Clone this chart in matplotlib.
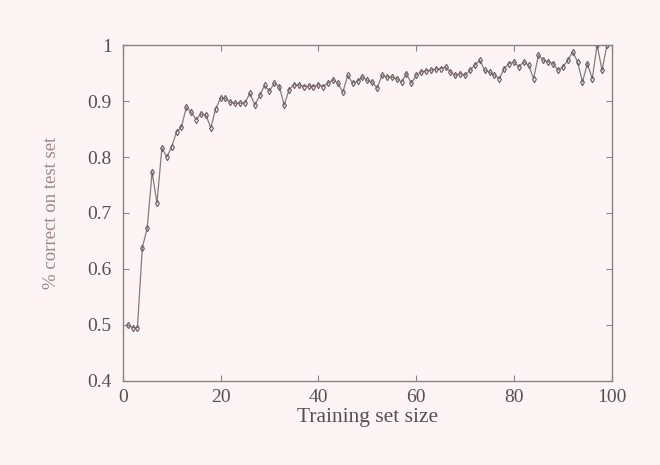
import matplotlib
matplotlib.use('Agg')
import matplotlib.pyplot as plt

# Tamanho do conjunto de treino e fração correta no teste
tamanhos = list(range(1, 100))
acertos = [0.500, 0.495, 0.495, 0.638, 0.673, 0.773, 0.718, 0.816, 0.800, 0.818,
           0.845, 0.854, 0.889, 0.880, 0.867, 0.877, 0.875, 0.852, 0.886, 0.905,
           0.905, 0.898, 0.896, 0.896, 0.897, 0.914, 0.893, 0.910, 0.928, 0.918,
           0.932, 0.926, 0.893, 0.920, 0.929, 0.929, 0.926, 0.927, 0.926, 0.929,
           0.926, 0.932, 0.938, 0.932, 0.916, 0.946, 0.932, 0.935, 0.943, 0.937,
           0.934, 0.923, 0.946, 0.943, 0.943, 0.940, 0.934, 0.949, 0.932, 0.946,
           0.952, 0.954, 0.955, 0.957, 0.958, 0.961, 0.952, 0.946, 0.949, 0.946,
           0.955, 0.964, 0.973, 0.955, 0.952, 0.946, 0.940, 0.958, 0.967, 0.970,
           0.961, 0.970, 0.964, 0.940, 0.982, 0.973, 0.970, 0.967, 0.955, 0.961,
           0.973, 0.988, 0.970, 0.934, 0.967, 0.940, 1.000, 0.955, 1.000]

xticks = [0, 20, 40, 60, 80, 100]
yticks = [0.4, 0.5, 0.6, 0.7, 0.8, 0.9, 1.0]
ytick_labels = ['0.4', '0.5', '0.6', '0.7', '0.8', '0.9', '1']

plt.rcParams['font.family'] = ['Liberation Serif', 'DejaVu Serif']

fig = plt.figure(figsize=(6.6, 4.65), dpi=100, facecolor='#fcf4f5')
ax = fig.add_axes([0.186, 0.181, 0.741, 0.722])
ax.set_facecolor('#fcf4f5')

ax.plot(tamanhos, acertos, color='#8a7a7a', linewidth=0.9,
        marker='d', markersize=3.2, markerfacecolor='none',
        markeredgecolor='#6a5a5a', markeredgewidth=0.8)

ax.set_xlim(0, 100)
ax.set_ylim(0.4, 1.0)
ax.set_xticks(xticks)
ax.set_yticks(yticks)
ax.set_yticklabels(ytick_labels)

for s in ax.spines.values():
    s.set_color('#8a8282')
    s.set_linewidth(1.0)
ax.tick_params(direction='in', top=True, right=True, length=4,
               color='#8a8282', labelcolor='#555050', labelsize=14)
ax.tick_params(axis='y', pad=8)
ax.tick_params(axis='x', pad=6)

ax.set_xlabel('Training set size', fontsize=15.5, color='#555050', labelpad=1)
ax.set_ylabel('% correct on test set', fontsize=13.5, color='#a08585', labelpad=20)

fig.savefig('out.png', dpi=100, facecolor=fig.get_facecolor())
